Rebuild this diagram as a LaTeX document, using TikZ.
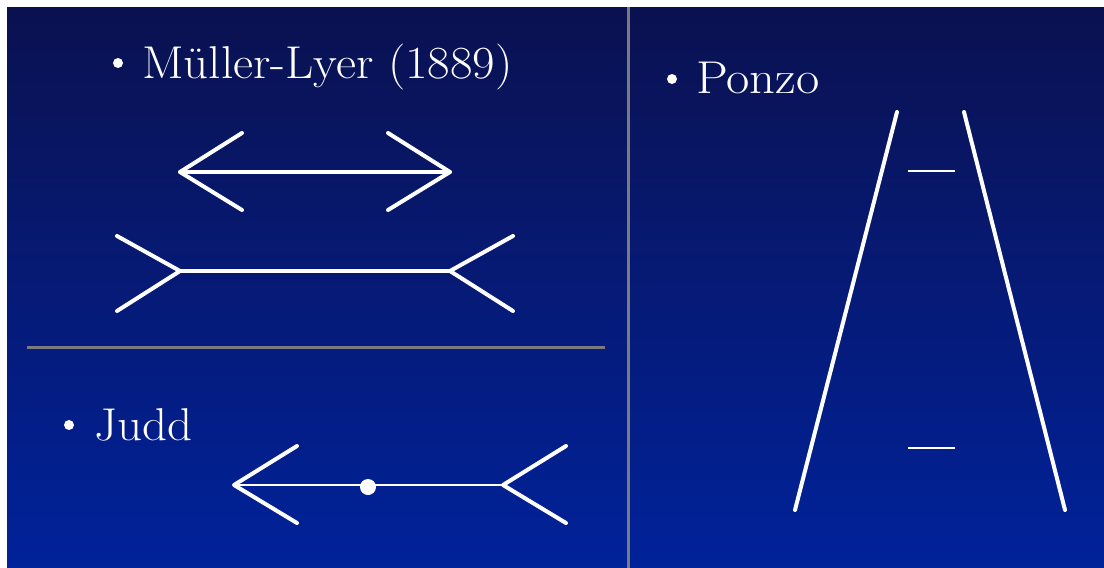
\documentclass[tikz,border=0pt]{standalone}
\begin{document}
\begin{tikzpicture}[x=1pt,y=-1pt,
  fig/.style={draw=white,line width=4pt,line cap=round,line join=round},
  thin fig/.style={draw=white,line width=2.6pt,line cap=round},
  divider/.style={draw=dividergray,line width=3pt},
  label/.style={text=white,anchor=base west,inner sep=0pt,font=\fontsize{46}{50}\selectfont},
  dotmark/.style={fill=white,circle,inner sep=0pt,minimum size=10pt}]
\definecolor{bgtop}{RGB}{10,17,80}
\definecolor{bgmid}{RGB}{6,26,118}
\definecolor{bgbot}{RGB}{0,34,154}
\definecolor{dividergray}{RGB}{122,122,128}
\newcommand{\wide}[1]{\scalebox{1.065}[1]{#1}}
\useasboundingbox (0,0) rectangle (1104,568);
\fill[white] (0,0) rectangle (1104,568);
\shade[top color=bgtop,bottom color=bgbot,middle color=bgmid] (7,7) rectangle (1104,568);

% dividers
\draw[divider] (628,7) -- (628,568);
\draw[divider] (27,347) -- (605,347);

% labels
\node[dotmark] (b1) at (118,63) {};
\node[label] (t1) at (142,78) {\wide{Müller-Lyer (1889)}};
\node[dotmark] (b2) at (69,425) {};
\node[label] (t2) at (94,440) {\wide{Judd}};
\node[dotmark] (b3) at (672,79) {};
\node[label] (t3) at (696,93) {\scalebox{1.1}[1]{Ponzo}};

% Mueller-Lyer: arrowheads in
\coordinate (a1) at (180,172); \coordinate (a2) at (450,172);
\draw[fig] (a1) -- (a2);
\draw[fig] (242,133) -- (a1) -- (242,210);
\draw[fig] (388,133) -- (a2) -- (388,210);
% Mueller-Lyer: fins out
\coordinate (c1) at (180,271); \coordinate (c2) at (450,271);
\draw[fig] (c1) -- (c2);
\draw[fig] (117,236) -- (c1) -- (117,311);
\draw[fig] (513,236) -- (c2) -- (513,311);

% Judd
\coordinate (j1) at (234,485); \coordinate (j2) at (503,485);
\draw[thin fig] (j1) -- (j2);
\draw[fig] (297,446) -- (j1) -- (297,523);
\draw[fig] (566,446) -- (j2) -- (566,523);
\node[fill=white,circle,inner sep=0pt,minimum size=16pt] (jd) at (368,487) {};

% Ponzo
\coordinate (p1) at (897,112); \coordinate (p2) at (795,510);
\coordinate (p3) at (964,112); \coordinate (p4) at (1065,510);
\draw[fig] (p1) -- (p2);
\draw[fig] (p3) -- (p4);
\draw[thin fig,line cap=butt] (908,171) -- (955,171);
\draw[thin fig,line cap=butt] (908,448) -- (955,448);
\end{tikzpicture}
\end{document}
